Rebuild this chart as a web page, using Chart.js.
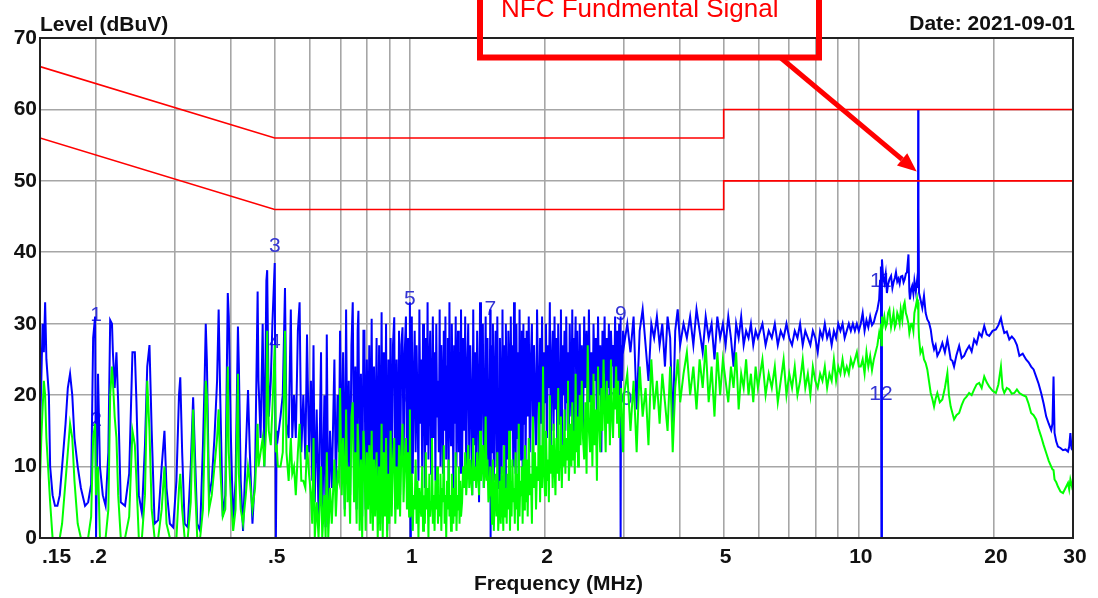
<!DOCTYPE html>
<html>
<head>
<meta charset="utf-8">
<title>Conducted emission scan</title>
<script src="https://cdn.jsdelivr.net/npm/chart.js@4.4.1/dist/chart.umd.min.js"></script>
<style>
  html, body { margin: 0; padding: 0; background: #fff; }
</style>
</head>
<body>
<canvas id="scan" width="1098" height="598"></canvas>
<script>
// scan values, frequency in kHz, level in dBuV (peak = blue, average = green)
var freqA = [
  150,151,152,153,154,155,157,158,160,162,
  164,166,168,171,173,175,177,179,182,185,
  189,192,195,197,199,200,202,204,207,210,
  213,215,217,218,220,222,224,227,232,237,
  241,244,246,249,253,257,260,263,266,270,
  275,280,284,287,292,297,302,306,308,311,
  315,320,325,329,332,336,341,346,349,351,
  353,357,362,367,372,375,378,383,388,393,
  395,399,404,409,414,416,420,425,431,436,
  440,446,452,458,460,465,470,474,479,481,
  485,490,494,500,503,505,508];
var peakA = [
  15,22,30,26,33,25,20,10,6,4.5,
  4.5,6,10,16,21,23,20,14,10,7,
  4.5,5,7.5,28,31,0,23,10,6,4.5,
  12,30.5,30,26,21,26,19,5,4.5,9,
  26,26,19,6,3.5,13,24,27,15,2,
  2.5,10,15,7,2,1.5,8,20,22.5,12,
  2,1.5,10,19.7,12,2,1,13,22,30,
  25,6,8,14,22,32,20,3,6,34.3,
  31,15,2,8,29.6,24,8,1,12,20.7,
  12,2,9,34.5,22,14,30,10,36,37.5,
  17,22,30,38.5,0,15,14];
var avgA = [
  8,14,18,22,20,14,8,5,0,0,
  0,0,2,8,12,16,14,8,2,0,
  0,0,3,14,16,6,10,0,0,0,
  4,20,24,22,17,14,6,0,0,3,
  15,13,8,0,0,6,22,15,4,0,
  0,4,10,2,0,0,0,7,9,4,
  0,0,5,18,8,0,0,4,14,22,
  20,4,6,10,14,18,10,3,4,24,
  12,6,1,4,23,9,4,2,6,10,
  8,4,7,16,10,12,14,10,16,29,
  15,13,18,27,12,13,10];

var freqB = [
  515,521,527,531,537,543,547,552,557,563,
  568,573,579,585,590,596,602,606,610,614,
  620,626,634,638,645,649,653,658,664,670,
  679,684,690,695,699,705,710,716,721,726,
  731,736,741,746,751,756,761,765,768,773,
  778,783,788,792,797,802,807,812,817,822,
  827,832,837,843,848,854,859,865,870,875,
  880,885,890,896,900,906,911,917,923,928,
  934,940,946,951,957,963,968,974,980,985,
  991,996,1000,1003];
var peakB = [
  17,20,35,16,14,32,14,20,14,29,
  33,12,20,11,28.5,12,22,8,27,5,
  18,3,26,2,20,1.5,28.5,2,15,7,
  25,7,20,12,29,10,26,4,32,8,
  22,6,27,33,9,24,4,29,31.8,7,
  23,3,29,29,4,25,9,27,6,30.7,
  5,24,8,28,4,27,2,31.6,3,26,
  8,30,1,25,5,28,6,27,30.9,4,
  25,8,29,6,27,29.5,10,26,31,9,
  28,7,33,0];
var avgB = [
  10,12,29,12,8,14,9,10,6,12,
  16,8,8,7,13,9,6,2,14,0,
  5,0,10,0,6,0,12,0,7,2,
  11,3,9,8,21,6,14,3,18,5,
  10,2,17,19,5,12,2,16,13,1,
  11,0,15,12,1,12,4,13,2,15,
  1,11,3,12,0,10,1,16,0,12,
  3,14,0,9,2,15,3,11,14,2,
  10,4,13,3,12,16,5,11,14,4,
  12,3,18,6];

var freqC = [
  1005,1010,1015,1020,1025,1030,1035,1040,1045,1050,
  1055,1060,1065,1070,1075,1080,1085,1090,1095,1100,
  1105,1110,1115,1120,1125,1130,1135,1140,1145,1150,
  1155,1160,1165,1170,1175,1180,1185,1190,1195,1200,
  1205,1210,1215,1220,1225,1230,1235,1240,1245,1250,
  1255,1260,1265,1270,1275,1280,1285,1290,1295,1300];
var peakC = [
  14,31,9,22,29,12,27,18,8,32,
  16,25,10,30,20,7,28,13,33,11,
  24,29,9,19,31,14,26,8,30,17,
  22,12,32,10,27,21,9,29,15,31,
  11,24,28,8,33,18,13,30,20,7,
  27,16,31,10,23,29,12,26,9,32];
var avgC = [
  3,9,1,6,4,11,2,8,0,7,
  5,3,10,1,6,2,12,4,7,0,
  9,3,5,14,2,6,1,8,4,10,
  2,6,3,9,1,7,5,13,2,6,
  0,8,4,11,3,6,1,9,5,2,
  7,3,12,1,6,4,10,2,8,3];

var freqD = [
  1307,1314,1321,1328,1335,1342,1349,1356,1363,1370,
  1377,1384,1391,1398,1405,1412,1419,1426,1433,1440,
  1447,1454,1461,1468,1475,1482,1489,1496,1503,1510,
  1513,1517,1524,1531,1538,1545,1552,1559,1566,1573,
  1580,1587,1594,1601,1608,1615,1622,1629,1636,1643,
  1650,1657,1664,1671,1678,1685,1692,1699,1706,1713,
  1720,1727,1734,1741,1748,1755,1762,1769,1776,1783,
  1790,1797,1804];
var peakD = [
  9,28,15,31,7,24,30,11,27,19,
  6,32,13,26,8,29,21,5,33,12,
  25,30,7,18,31,10,28,14,6,32,
  0,27,12,30,8,22,29,10,31,16,
  7,28,20,9,32,13,27,6,30,18,
  11,29,24,8,31,15,27,10,33,19,
  9,30,14,26,7,32,21,11,29,8,
  30,16,28];
var avgD = [
  5,10,7,12,6,9,13,7,11,8,
  6,14,8,10,7,12,9,6,15,8,
  10,13,7,9,17,8,11,5,6,10,
  10,7,2,11,1,6,9,3,12,1,
  4,8,2,10,5,1,13,3,7,2,
  9,4,15,1,8,3,11,5,7,2,
  12,4,9,1,16,3,8,6,10,2,
  11,4,13];

var freqE = [
  1810,1820,1830,1840,1850,1860,1870,1880,1890,1900,
  1910,1920,1930,1940,1950,1960,1970,1980,1990,2000,
  2010,2020,2030,2040,2050,2060,2070,2080,2090,2100,
  2110,2120,2130,2140,2150,2160,2170,2180,2190,2200,
  2210,2220,2230,2240,2250,2260,2270,2280,2290,2300,
  2310,2320,2330,2340,2350,2360,2370,2380,2390,2400,
  2415,2430,2445,2460,2475,2490,2505,2520,2535,2550,
  2565,2580,2595,2610,2625,2640,2655,2670,2685,2700,
  2715,2730,2745,2760,2775,2790,2805,2820,2835,2850,
  2865,2880,2895,2910,2925,2940,2945,2950,2955,2970,
  2985];
var peakE = [
  10,29,17,31,12,25,30,8,27,20,
  13,32,22,9,28,16,31,11,26,19,
  30,14,27,21,33,12,24,29,15,31,
  18,28,11,30,23,16,32,13,27,20,
  29,15,31,19,26,12,30,22,17,32,
  14,28,24,31,16,29,20,13,30,18,
  27,15,31,21,29,17,32,19,26,14,
  30,22,28,16,31,20,27,12,29,23,
  31,18,28,21,30,15,29,24,27,19,
  31,22,29,17,30,26,31,0,27,22,
  29];
var avgE = [
  5,11,3,14,6,9,2,17,7,12,
  4,10,8,19,5,13,7,24,9,6,
  15,8,11,5,20,9,13,7,16,10,
  6,14,9,21,8,12,17,7,13,10,
  18,9,14,11,22,8,12,16,10,19,
  11,15,9,23,12,17,10,14,20,13,
  22,14,11,19,9,27,15,12,20,10,
  23,13,18,8,24,16,12,21,15,25,
  18,12,22,16,20,13,25,17,14,21,
  18,24,16,22,14,20,19,17,21,15,
  12];

var freqF = [
  3000,3050,3100,3150,3200,3250,3300,3350,3400,3450,
  3500,3550,3600,3650,3700,3750,3800,3850,3900,3950,
  4000,4070,4140,4210,4280,4350,4420,4490,4560,4630,
  4700,4770,4840,4910,4980,5050,5120,5190,5260,5330,
  5400,5470,5540,5610,5680,5750,5820,5890,5960,6100,
  6200,6300,6400,6500,6600,6700,6800,6900,7000,7100,
  7200,7300,7400,7500,7600,7700,7800,7900,8000,8100,
  8200,8300,8400,8500,8600,8700,8800,8900,9000,9100,
  9200,9300,9400,9500,9600,9700,9800,9900,10000];
var peakF = [
  27,30,26,31,18,29,32,27,22,30,
  28,31,27,30,24,31,28,15,29,32,
  27,30,28,31,27,32,29,26,31,28,
  30,25,31,28,30,27,31,28,24,30,
  28,31,27,29,28,30,27,29,28,30,
  27,29,28,30,27,29,28,30,28,27,
  29,28,30,27,29,28,27,29,28,26,
  29,28,30,28,29,27,29,28,30,29,
  30,28,29,30,29,30,29,30,29];
var avgF = [
  20,23,15,22,12,24,17,21,13,25,
  18,22,16,23,19,15,24,12,21,25,
  19,23,26,20,24,18,25,21,27,19,
  24,17,26,20,25,22,19,24,21,26,
  18,23,21,25,20,23,19,24,21,25,
  20,23,21,24,19,22,25,20,23,21,
  24,20,22,25,21,23,20,24,22,21,
  23,22,24,21,23,22,25,22,24,23,
  25,23,24,23,25,24,25,26,24];

var freqG = [
  10100,10200,10300,10400,10500,10600,10700,10800,10900,11000,
  11100,11150,11200,11230,11260,11330,11400,11480,11550,11620,
  11700,11800,11880,11950,12030,12100,12180,12250,12330,12400,
  12500,12580,12650,12730,12800,12900,12960,13000,13080,13150,
  13230,13300,13400,13480,13540,13560,13580,13620,13720,13850,
  13970,14090,14210,14330,14460,14580,14710,14830,14960,15150,
  15350,15550,15750,15880,16020,16160,16300,16500,16730,16950,
  17160,17380,17610,17840,18070,18300,18540,18780,19030,19270,
  19520,19860,20200,20460,20730,20910,21090,21360,21640,21920,
  22210,22500,22790,23180,23580,23890,24200,24510,24830,25150,
  25480,25810,26150,26490,26830,27000,27150,27290,27530,27770,
  28130,28500,28870,29240,29420,29600,29780,29950];
var peakG = [
  30,31.5,29,30.5,29.5,31,29.8,30.2,31.2,32,
  33.4,36,38,0,39,36.5,35.7,37,34.3,35.5,
  36.2,36.7,35,35.8,36.4,37.2,35.9,36.3,35.6,36.6,
  36.7,35.8,36.2,37,37.2,39.7,34.5,33.4,34.8,35.3,
  34.2,36,34.5,36,35,60,46,34.3,33.4,32.2,
  33.9,31.5,30.6,30.2,29.2,27.5,26.4,27,25.5,26.2,
  27.3,26,27.8,26.5,25,24.8,24,25.6,26.9,25.2,
  25.5,26.3,26.9,26.1,27.8,27.2,28.7,28.2,29.7,28.5,
  28.3,29,29.2,29.8,30.8,29.6,28.7,28.9,27.8,28.2,
  27.8,27,25.5,25.8,25,24.6,24,23.6,22.6,21.6,
  20.3,18.8,17,16,15.1,16,22.6,14.7,13.5,12.8,
  12.6,12.3,12.4,12.1,12.8,14.7,12.5,12.3];
var avgG = [
  24,25,23,26,24,25.5,23.5,25,26,27,
  28.7,28,30,27,31,30,31,29.5,30,31.5,
  32,29.5,30.5,31.5,29.5,30,31.5,31,30,32,
  30.5,32.5,33,31.5,31,30,28.7,28.7,30,30,
  29,31.5,32.5,33.4,32,33,30,28,25.9,26.5,
  25,24.5,23.6,22,20.3,19.5,18.4,19.5,20.3,19,
  19.4,21,23.1,20,18.4,17.5,16.6,17.2,17.5,18.6,
  19.4,19.8,20.3,20,20.8,21.5,21.7,21,22.6,21.8,
  21.2,20.6,20.3,21.5,24,21,20.3,21,20.8,20.2,
  20.3,20.8,20.3,20,19.8,18.8,17.5,17.2,16.6,15.3,
  14.2,13,11.9,10.8,10,9.6,9.5,8.2,7.8,7.2,
  6.5,6.3,7,7.7,6.8,8.2,7.5,6.7];

// limit lines (MHz, dBuV)
var limitFreq = [0.15, 0.5, 5, 5, 30];
var qpLimit = [66, 56, 56, 60, 60];
var avLimit = [56, 46, 46, 50, 50];

// marker readouts
var markerFreq = [0.2, 0.2, 0.5, 0.5, 1.0, 1.0, 1.51, 1.51, 2.95, 2.95, 11.2, 11.2];
var markerLevel = [31.2, 16.5, 40.8, 27.4, 33.4, 19.5, 32.0, 18.5, 31.3, 19.4, 35.9, 20.1];
var markerLabel = ["1", "2", "3", "4", "5", "6", "7", "8", "9", "10", "11", "12"];

// axis ticks
var xGridValues = [0.15, 0.2, 0.3, 0.4, 0.5, 0.6, 0.7, 0.8, 0.9, 1, 2, 3, 4, 5, 6, 7, 8, 9, 10, 20, 30];
var xLabelValues = [0.15, 0.2, 0.5, 1, 2, 5, 10, 20, 30];
var xLabelText = [".15", ".2", ".5", "1", "2", "5", "10", "20", "30"];

var nfcFreq = 13.56;
var nfcArrowLevel = 51.3;

function toPoints(freqs, levels) {
  return freqs.map(function (f, i) {
    return { x: f / 1000, y: levels[i] };
  });
}

var peakData = [].concat(
  toPoints(freqA, peakA), toPoints(freqB, peakB), toPoints(freqC, peakC),
  toPoints(freqD, peakD), toPoints(freqE, peakE), toPoints(freqF, peakF),
  toPoints(freqG, peakG));
var avgData = [].concat(
  toPoints(freqA, avgA), toPoints(freqB, avgB), toPoints(freqC, avgC),
  toPoints(freqD, avgD), toPoints(freqE, avgE), toPoints(freqF, avgF),
  toPoints(freqG, avgG));
var limitKhz = limitFreq.map(function (f) { return f * 1000; });

var FONT = '"Liberation Sans", Arial, sans-serif';

var decorations = {
  id: "decorations",
  beforeDatasetsDraw: function (chart) {
    // marker numbers sit under the traces, like the analyser prints them
    var ctx = chart.ctx, x = chart.scales.x, y = chart.scales.y;
    ctx.save();
    ctx.font = "21px " + FONT;
    ctx.fillStyle = "#3434d4";
    ctx.textAlign = "center";
    ctx.textBaseline = "middle";
    markerFreq.forEach(function (f, i) {
      ctx.fillText(markerLabel[i], x.getPixelForValue(f), y.getPixelForValue(markerLevel[i]));
    });
    ctx.restore();
  },
  afterDraw: function (chart) {
    var ctx = chart.ctx, x = chart.scales.x, y = chart.scales.y;
    var area = chart.chartArea;
    ctx.save();

    // frame
    ctx.strokeStyle = "#222";
    ctx.lineWidth = 2;
    ctx.strokeRect(area.left, area.top, area.right - area.left, area.bottom - area.top);

    // titles
    ctx.fillStyle = "#111";
    ctx.font = "bold 21px " + FONT;
    ctx.textBaseline = "alphabetic";
    ctx.textAlign = "left";
    ctx.fillText("Level (dBuV)", area.left, 31);
    ctx.textAlign = "right";
    ctx.fillText("Date: 2021-09-01", area.right + 2, 30);
    ctx.textAlign = "center";
    ctx.fillText("Frequency (MHz)", (area.left + area.right) / 2 + 2, 590);

    // x tick labels
    xLabelValues.forEach(function (v, i) {
      var px = x.getPixelForValue(v);
      ctx.textAlign = i === 0 ? "left" : "center";
      ctx.fillText(xLabelText[i], px + 2, 563);
    });

    // annotation box
    ctx.strokeStyle = "#ff0000";
    ctx.lineWidth = 6;
    ctx.strokeRect(480, -12, 339, 69.5);
    ctx.fillStyle = "#ff0000";
    ctx.font = "26px " + FONT;
    ctx.textAlign = "left";
    ctx.fillText("NFC Fundmental Signal", 501, 17);

    // arrow to the fundamental
    var tx = x.getPixelForValue(nfcFreq) - 1.5;
    var ty = y.getPixelForValue(nfcArrowLevel);
    var sx = 781, sy = 58;
    var ang = Math.atan2(ty - sy, tx - sx);
    var head = 19, half = 8;
    var bx = tx - head * Math.cos(ang), by = ty - head * Math.sin(ang);
    ctx.lineWidth = 5;
    ctx.beginPath();
    ctx.moveTo(sx, sy);
    ctx.lineTo(bx, by);
    ctx.stroke();
    ctx.beginPath();
    ctx.moveTo(tx, ty);
    ctx.lineTo(bx + half * Math.sin(ang), by - half * Math.cos(ang));
    ctx.lineTo(bx - half * Math.sin(ang), by + half * Math.cos(ang));
    ctx.closePath();
    ctx.fill();

    ctx.restore();
  }
};

var ctx = document.getElementById("scan").getContext("2d");
var scanChart = new Chart(ctx, {
  type: "line",
  data: {
    datasets: [
      {
        label: "QP limit",
        data: toPoints(limitKhz, qpLimit),
        borderColor: "#ff0000",
        borderWidth: 1.6,
        pointRadius: 0,
      },
      {
        label: "AV limit",
        data: toPoints(limitKhz, avLimit),
        borderColor: "#ff0000",
        borderWidth: 1.6,
        pointRadius: 0,
      },
      {
        label: "Average",
        data: avgData,
        borderColor: "#00ff00",
        borderWidth: 2,
        pointRadius: 0,
      },
      {
        label: "Peak",
        data: peakData,
        borderColor: "#0000ff",
        borderWidth: 2,
        pointRadius: 0,
      },
    ],
  },
  options: {
    responsive: false,
    animation: false,
    events: [],
    layout: { padding: { left: 0, top: 38, right: 25, bottom: 0 } },
    plugins: {
      legend: { display: false },
      tooltip: { enabled: false },
    },
    elements: { line: { tension: 0, borderJoinStyle: "miter" } },
    scales: {
      x: {
        type: "logarithmic",
        min: 0.15,
        max: 30,
        afterBuildTicks: function (scale) {
          scale.ticks = xGridValues.map(function (v) { return { value: v }; });
        },
        afterFit: function (scale) { scale.height = 60; },
        ticks: { display: false },
        grid: { color: "#a6a6a6", lineWidth: 1.6, drawTicks: false },
        border: { display: false },
      },
      y: {
        min: 0,
        max: 70,
        afterFit: function (scale) { scale.width = 40; },
        ticks: {
          stepSize: 10,
          padding: 3,
          color: "#111",
          font: { family: FONT, size: 21, weight: "bold" },
        },
        grid: { color: "#a6a6a6", lineWidth: 1.6, drawTicks: false },
        border: { display: false },
      },
    },
  },
  plugins: [decorations],
});
</script>
</body>
</html>
